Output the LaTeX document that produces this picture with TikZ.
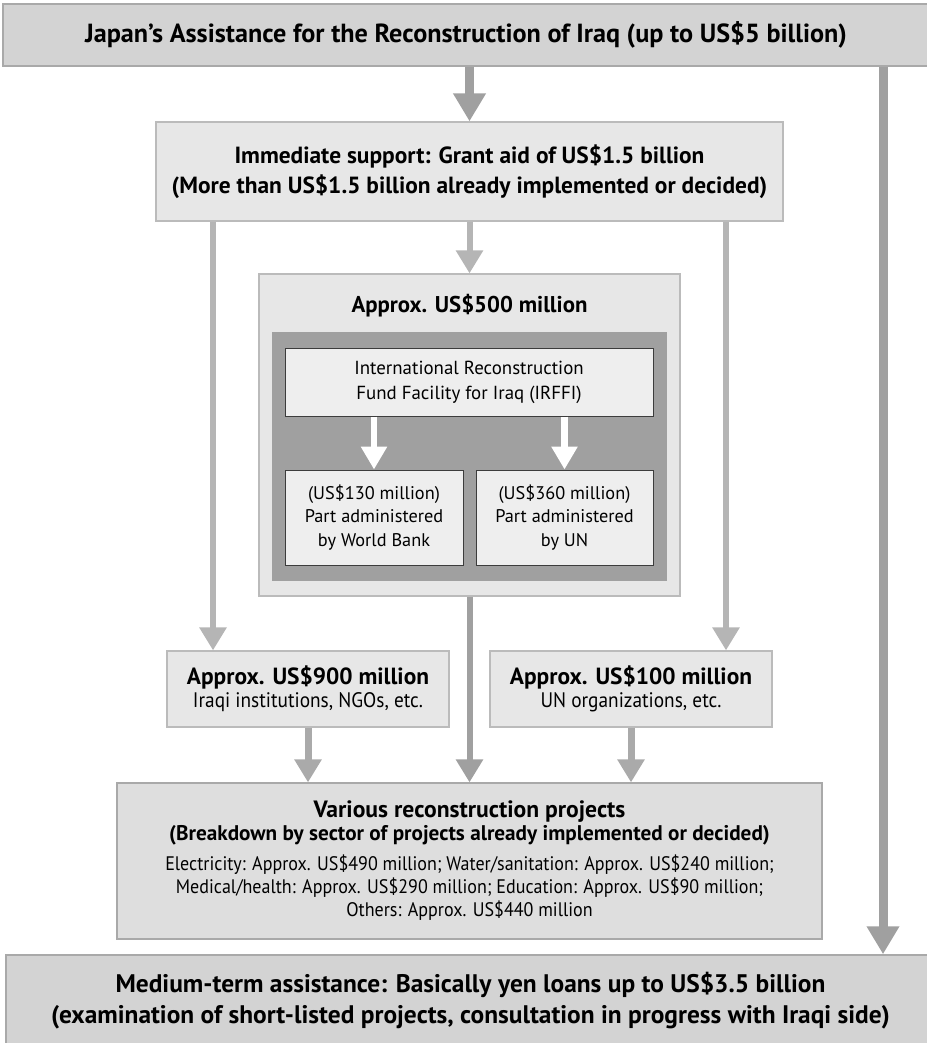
\documentclass[tikz,border=0pt]{standalone}
\usepackage{fontspec}
\setmainfont{PT Sans}
\newfontfamily\condfont[FakeStretch=0.92]{PT Sans}
\usetikzlibrary{arrows.meta}

\definecolor{headgrey}{HTML}{D3D3D3}
\definecolor{headline}{HTML}{A9A9A9}
\definecolor{palegrey}{HTML}{E7E7E7}
\definecolor{paleline}{HTML}{BBBBBB}
\definecolor{panelgrey}{HTML}{A0A0A0}
\definecolor{cellgrey}{HTML}{EEEEEE}
\definecolor{cellline}{HTML}{3C3C3C}
\definecolor{arrowdark}{HTML}{A0A0A0}
\definecolor{arrowmid}{HTML}{AAAAAA}
\definecolor{arrowlight}{HTML}{B5B5B5}

\begin{document}
\begin{tikzpicture}[x=1pt, y=-1pt,
    headbox/.style={draw=headline, fill=headgrey, line width=1.5pt, inner sep=0pt, align=center},
    palebox/.style={draw=paleline, fill=palegrey, line width=1.2pt, inner sep=0pt, align=center},
    cellbox/.style={draw=cellline, fill=cellgrey, line width=1pt, inner sep=0pt, align=center,
        font=\fontsize{18.3}{23.5}\selectfont},
    bigarrow/.style={draw=arrowdark, line width=9pt, -{Triangle[width=31pt, length=28pt]}, arrowdark},
    droparrow/.style={draw=arrowlight, line width=6pt, -{Triangle[width=26pt, length=23pt]}, arrowlight},
    feedarrow/.style={draw=arrowmid, line width=7pt, -{Triangle[width=26pt, length=23pt]}, arrowmid},
    fundarrow/.style={draw=white, line width=6.5pt, -{Triangle[width=25pt, length=23pt]}, white}]

    \useasboundingbox (0, 0) rectangle (926, 1043);

    % top and bottom bands
    \node[headbox, minimum width=926, minimum height=62,
          font=\bfseries\fontsize{26.2}{30}\selectfont] (japan) at (466, 35)
        {Japan’s Assistance for the Reconstruction of Iraq (up to US\$5 billion)};
    \node[headbox, minimum width=929, minimum height=92,
          font=\bfseries\fontsize{25.4}{31}\selectfont] (medium) at (470.5, 1001)
        {Medium-term assistance: Basically yen loans up to US\$3.5 billion\\
         (examination of short-listed projects, consultation in progress with Iraqi side)};

    % immediate support
    \node[palebox, minimum width=627, minimum height=99,
          font=\bfseries\fontsize{23.4}{30}\selectfont] (imm) at (469.5, 171.5)
        {Immediate support: Grant aid of US\$1.5 billion\\
         (More than US\$1.5 billion already implemented or decided)};

    % approx. 500 million and the IRFFI
    \node[palebox, minimum width=421, minimum height=322] (b500) at (469.5, 435) {};
    \node[font=\bfseries\fontsize{22.8}{24}\selectfont, anchor=base] (t500) at (469.5, 312)
        {Approx. US\$500 million};
    \node[fill=panelgrey, minimum width=395, minimum height=249, inner sep=0pt] (panel) at (469.5, 456.5) {};
    \node[cellbox, minimum width=368, minimum height=68,
          font=\fontsize{18.9}{25}\selectfont] (irffi) at (469, 382)
        {International Reconstruction\\Fund Facility for Iraq (IRFFI)};
    \node[cellbox, minimum width=178, minimum height=95] (wb) at (374, 517.5)
        {(US\$130 million)\\Part administered\\by World Bank};
    \node[cellbox, minimum width=177, minimum height=95] (un) at (564.5, 517.5)
        {(US\$360 million)\\Part administered\\by UN};

    % side amounts
    \node[palebox, minimum width=282, minimum height=76,
          font=\condfont\fontsize{21}{23}\selectfont] (b900) at (308, 689)
        {{\rmfamily\bfseries\fontsize{23.4}{23}\selectfont Approx. US\$900 million}\\
         Iraqi institutions, NGOs, etc.};
    \node[palebox, minimum width=282, minimum height=76,
          font=\condfont\fontsize{21}{23}\selectfont] (b100) at (631, 689)
        {{\rmfamily\bfseries\fontsize{23.4}{23}\selectfont Approx. US\$100 million}\\
         UN organizations, etc.};

    % projects
    \node[palebox, draw=headline, fill=palegrey!96!black, minimum width=705, minimum height=156,
          font=\condfont\fontsize{19.6}{23}\selectfont] (various) at (469.5, 861)
        {{\rmfamily\bfseries\fontsize{23.6}{23}\selectfont Various reconstruction projects}\\
         {\rmfamily\bfseries\fontsize{21.2}{23}\selectfont (Breakdown by sector of projects already implemented or decided)}\\[7pt]
         Electricity: Approx. US\$490 million; Water/sanitation: Approx. US\$240 million;\\
         Medical/health: Approx. US\$290 million; Education: Approx. US\$90 million;\\
         Others: Approx. US\$440 million};

    \coordinate (farright) at (883, 0);
    \coordinate (leftdrop) at (213, 0);
    \coordinate (rightdrop) at (726, 0);

    \draw[bigarrow] (japan.south -| imm) to (imm.north);
    \draw[bigarrow] (japan.south -| farright) to (medium.north -| farright);

    \draw[droparrow] (imm.south -| leftdrop) to (b900.north -| leftdrop);
    \draw[droparrow] (imm.south) to (b500.north);
    \draw[droparrow] (imm.south -| rightdrop) to (b100.north -| rightdrop);

    \foreach \part in {wb, un}{
        \draw[fundarrow] (irffi.south -| \part) to (\part.north);
    }

    \draw[feedarrow] (b900.south) to (various.north -| b900);
    \draw[feedarrow, draw=arrowdark, arrowdark, line width=6pt] (b500.south) to (various.north);
    \draw[feedarrow] (b100.south) to (various.north -| b100);
\end{tikzpicture}
\end{document}
